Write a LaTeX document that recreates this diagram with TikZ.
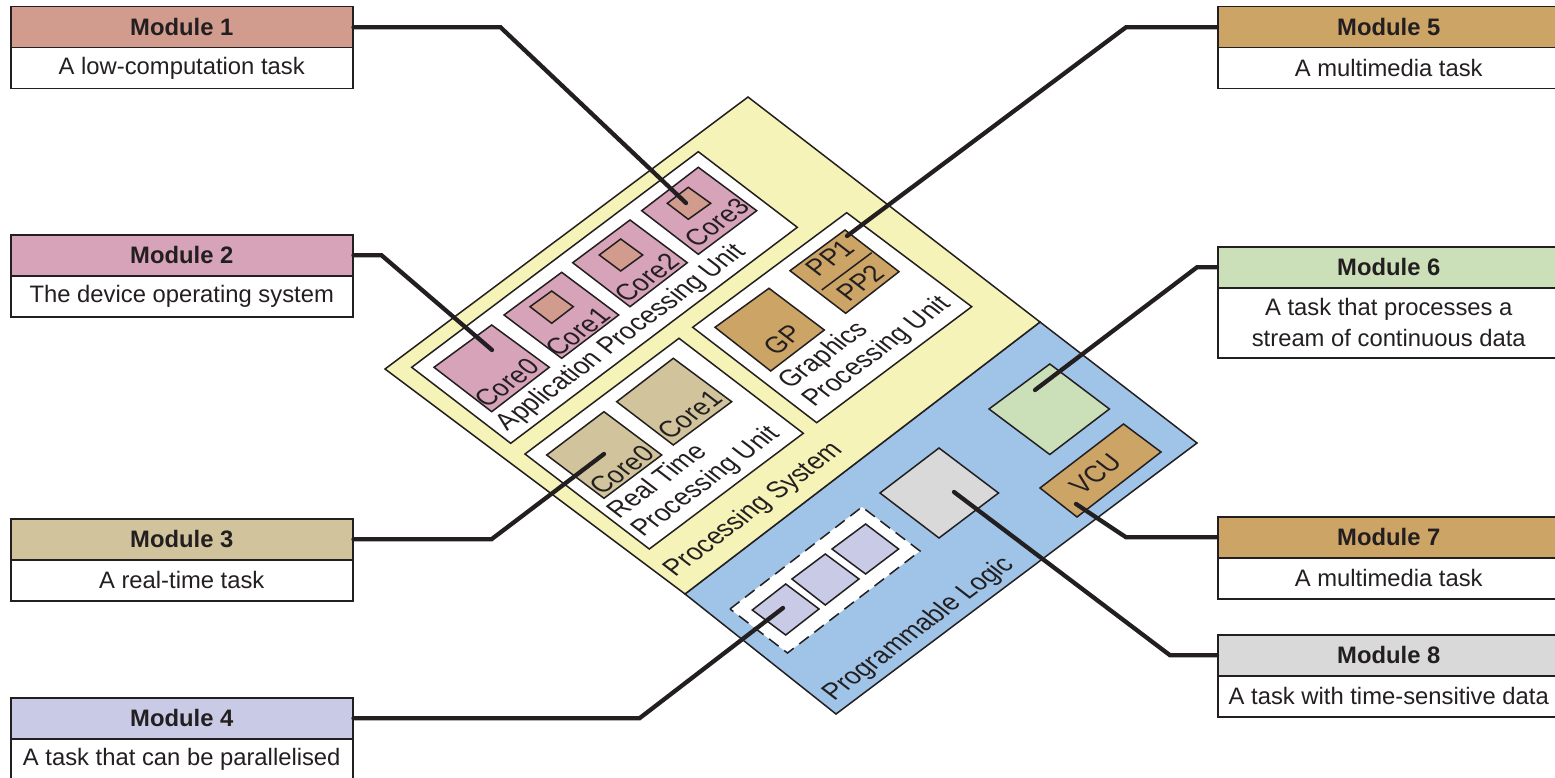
\documentclass[tikz,border=0pt]{standalone}
\usepackage{fontspec}
\setmainfont{Liberation Sans}
\definecolor{ink}{HTML}{231F20}
\definecolor{cyellow}{HTML}{F5F3B8}
\definecolor{cblue}{HTML}{9FC4E8}
\definecolor{cm1}{HTML}{D19C8D}
\definecolor{cm2}{HTML}{D6A3B8}
\definecolor{cm3}{HTML}{D1C49C}
\definecolor{cm4}{HTML}{C9CAE6}
\definecolor{cm5}{HTML}{CBA466}
\definecolor{cm6}{HTML}{CBDFB9}
\definecolor{cm8}{HTML}{D9D9D9}
\tikzset{
  outl/.style={draw=ink,line width=1.5pt,line join=miter},
  modbox/.style={outl,minimum width=342pt,minimum height=41pt,inner sep=0pt,anchor=north west,text=ink,font=\fontsize{23.8}{31}\selectfont,align=center},
  modhead/.style={modbox,font=\fontsize{23.8}{31}\selectfont\bfseries},
  plate/.style={outl},
  lab/.style={rotate=36.8,xslant=-0.28,yscale=1.08,inner sep=0pt,text=ink,font=\fontsize{24.5}{27}\selectfont,align=left},
  wire/.style={draw=ink,line width=4.3pt,line join=miter,line cap=round},
}
\begin{document}
\begin{tikzpicture}[x=1pt,y=-1pt]
\useasboundingbox (0,0) rectangle (1555,778);
% base plates
\draw[plate,fill=cblue] (685,594) -- (1040,322) -- (1197,443) -- (836,714) -- cycle;
\draw[plate,fill=cyellow] (385,369) -- (748,97) -- (1040,322) -- (685,594) -- cycle;
% Application Processing Unit
\draw[plate,fill=white] (411.7,367.3) -- (698.3,151.7) -- (797.3,227.3) -- (510.7,443.3) -- cycle;
\draw[plate,fill=cm2] (434,367.3) -- (491.7,325) -- (549.3,367.3) -- (491.7,411.7) -- cycle;
\draw[plate,fill=cm2] (504,315) -- (561.7,272.3) -- (618.7,315) -- (561.7,358.3) -- cycle;
\draw[plate,fill=cm2] (572.7,262.7) -- (630,220) -- (687.3,262.7) -- (630,306.7) -- cycle;
\draw[plate,fill=cm2] (641.7,210.7) -- (698.3,167.3) -- (756.7,210.7) -- (698.3,254.3) -- cycle;
\draw[plate,fill=cm1] (530,306.7) -- (551.7,291) -- (573.3,306.7) -- (551.7,323.3) -- cycle;
\draw[plate,fill=cm1] (599.3,255) -- (620.7,239) -- (642.7,255) -- (620.7,271) -- cycle;
\draw[plate,fill=cm1] (667.3,203.3) -- (688.3,187.3) -- (710.7,203.3) -- (688.3,219.3) -- cycle;
% Graphics Processing Unit
\draw[plate,fill=white] (692.7,327.3) -- (846.7,212.7) -- (971.7,306.7) -- (816.7,422.7) -- cycle;
\draw[plate,fill=cm5] (715,327.3) -- (769,288.3) -- (824.3,330) -- (770.7,371) -- cycle;
\draw[plate,fill=cm5] (790,270.7) -- (845,230) -- (899,271.7) -- (845.7,313.3) -- cycle;
\draw[plate] (821.7,290) -- (871.7,252.7);
% Real Time Processing Unit
\draw[plate,fill=white] (525,454) -- (679,338.3) -- (803.3,433.3) -- (649.3,549) -- cycle;
\draw[plate,fill=cm3] (546.7,455) -- (604,411.7) -- (661.7,455) -- (604,498.3) -- cycle;
\draw[plate,fill=cm3] (616.7,401.7) -- (673.3,358.3) -- (731.7,401.7) -- (673.3,445) -- cycle;
% Programmable Logic blocks
\draw[plate,fill=cm6] (989,409) -- (1049.8,364) -- (1109.4,409) -- (1049.8,454.5) -- cycle;
\draw[plate,fill=cm8] (880,493) -- (939,448) -- (998.5,493) -- (939,538) -- cycle;
\draw[plate,fill=cm5] (1040,488) -- (1123.5,424) -- (1161,452) -- (1077,517) -- cycle;
\draw[plate,fill=white,dashed,dash pattern=on 12pt off 7pt] (730,609) -- (862,507) -- (920,551) -- (787.5,653) -- cycle;
\draw[plate,fill=cm4] (752.3,610) -- (785.7,584) -- (819,609) -- (785.7,635) -- cycle;
\draw[plate,fill=cm4] (791.9,579) -- (825.3,554) -- (859,579) -- (825.3,605) -- cycle;
\draw[plate,fill=cm4] (832,549) -- (865.6,524) -- (898.6,549) -- (865.6,574) -- cycle;
% labels on the plates
\node[lab] (lc0) at (506.7,383) {Core0};
\node[lab] (lc1) at (578,332) {Core1};
\node[lab] (lc2) at (646.7,278) {Core2};
\node[lab] (lc3) at (716.7,222.7) {Core3};
\node[lab] (lapu) at (621.7,338) {Application Processing Unit};
\node[lab] (lgp) at (783,340) {GP};
\node[lab] (lpp1) at (830,258) {PP1};
\node[lab] (lpp2) at (860,283) {PP2};
\node[lab] (lgpu) at (865.5,343) {Graphics\\Processing Unit};
\node[lab] (lr0) at (622,470) {Core0};
\node[lab] (lr1) at (690,415) {Core1};
\node[lab] (lrpu) at (694.5,473) {Real Time\\Processing Unit};
\node[lab] (lps) at (754,510) {Processing System};
\node[lab] (lpl) at (919,629) {Programmable Logic};
\node[lab] (lvcu) at (1095.6,474) {VCU};
% connector ends
\coordinate (e1) at (686,203);
\coordinate (e2) at (492,350);
\coordinate (e3) at (604,454);
\coordinate (e4) at (783,608);
\coordinate (e5) at (847,236);
\coordinate (e6) at (1035,390);
\coordinate (e7) at (1076,504);
\coordinate (e8) at (954,492);
% module boxes
\node[modhead,fill=cm1] (m1h) at (10,6) {Module 1};
\node[modbox] (m1d) at (10,47) {A low-computation task};
\node[modhead,fill=cm2] (m2h) at (10,234) {Module 2};
\node[modbox] (m2d) at (10,275) {The device operating system};
\node[modhead,fill=cm3] (m3h) at (10,518) {Module 3};
\node[modbox] (m3d) at (10,559) {A real-time task};
\node[modhead,fill=cm4] (m4h) at (10,697) {Module 4};
\node[modbox] (m4d) at (10,738) {A task that can be parallelised};
\node[modhead,fill=cm5] (m5h) at (1217,6) {Module 5};
\node[modbox] (m5d) at (1217,47) {A multimedia task};
\node[modhead,fill=cm6] (m6h) at (1217,246) {Module 6};
\node[modbox,minimum height=70pt] (m6d) at (1217,287) {A task that processes a\\stream of continuous data};
\node[modhead,fill=cm5] (m7h) at (1217,516) {Module 7};
\node[modbox] (m7d) at (1217,557) {A multimedia task};
\node[modhead,fill=cm8] (m8h) at (1217,634) {Module 8};
\node[modbox] (m8d) at (1217,675) {A task with time-sensitive data};
% connectors
\draw[wire] (m1h.east) -- ++(147,0) -- (e1);
\draw[wire] (m2h.east) -- ++(28,0) -- (e2);
\draw[wire] (m3h.east) -- ++(138,0) -- (e3);
\draw[wire] (m4h.east) -- ++(286,0) -- (e4);
\draw[wire] (m5h.west) -- ++(-91,0) -- (e5);
\draw[wire] (m6h.west) -- ++(-20,0) -- (e6);
\draw[wire] (m7h.west) -- ++(-91,0) -- (e7);
\draw[wire] (m8h.west) -- ++(-47,0) -- (e8);
\end{tikzpicture}
\end{document}
